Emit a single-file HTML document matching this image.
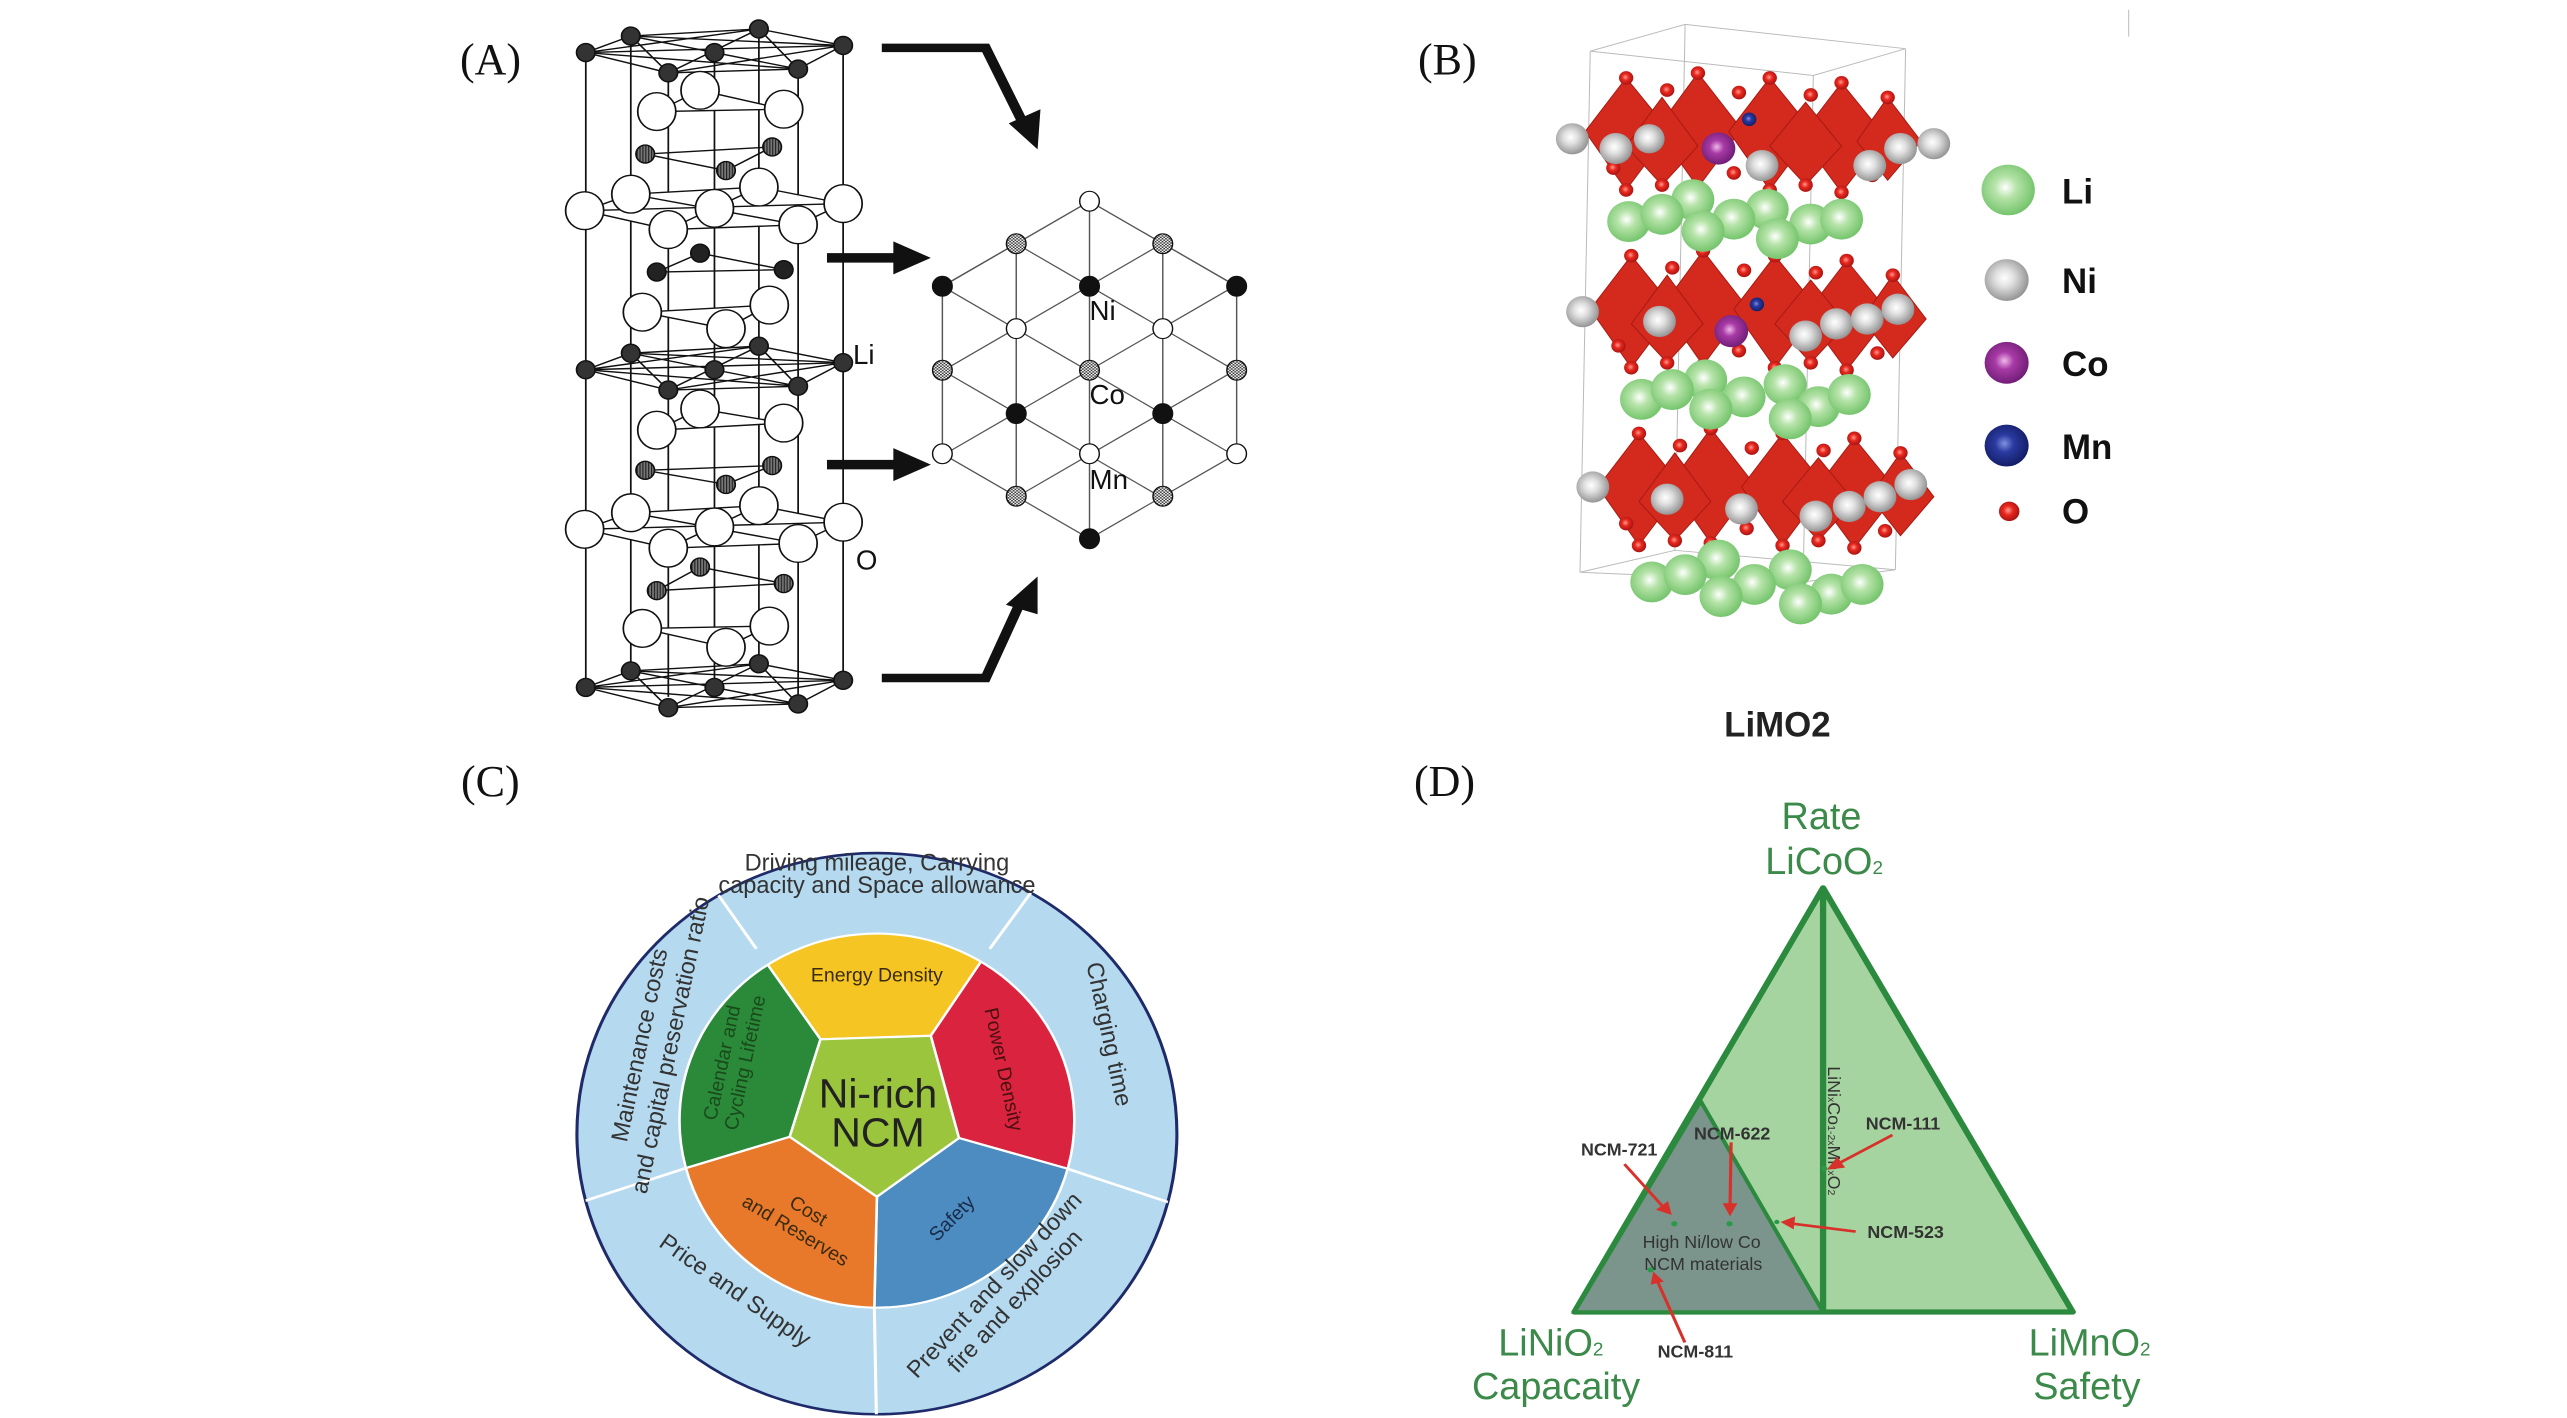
<!DOCTYPE html>
<html><head><meta charset="utf-8"><style>html,body{margin:0;padding:0;background:#fff;overflow:hidden}svg{display:block}</style></head>
<body>
<svg width="2567" height="1418" viewBox="0 0 2567 1418" xmlns="http://www.w3.org/2000/svg" font-family="Liberation Sans, sans-serif">
<defs>
<radialGradient id="gG" cx="0.45" cy="0.45" r="0.6"><stop offset="0" stop-color="#ffffff"/><stop offset="0.35" stop-color="#b5e3a8"/><stop offset="1" stop-color="#6cc064"/></radialGradient>
<radialGradient id="gN" cx="0.45" cy="0.45" r="0.6"><stop offset="0" stop-color="#ffffff"/><stop offset="0.35" stop-color="#e0e0e0"/><stop offset="1" stop-color="#8a8a8a"/></radialGradient>
<radialGradient id="gC" cx="0.45" cy="0.45" r="0.6"><stop offset="0" stop-color="#f0b8e8"/><stop offset="0.35" stop-color="#a83aa6"/><stop offset="1" stop-color="#6a1a70"/></radialGradient>
<radialGradient id="gM" cx="0.45" cy="0.45" r="0.6"><stop offset="0" stop-color="#8090e0"/><stop offset="0.35" stop-color="#2a3aa0"/><stop offset="1" stop-color="#101a60"/></radialGradient>
<radialGradient id="gO" cx="0.45" cy="0.45" r="0.6"><stop offset="0" stop-color="#ff9a90"/><stop offset="0.4" stop-color="#e8281e"/><stop offset="1" stop-color="#a01010"/></radialGradient>
<pattern id="chk" width="6" height="6" patternUnits="userSpaceOnUse"><rect width="6" height="6" fill="#fff"/><rect width="3" height="3" fill="#333"/><rect x="3" y="3" width="3" height="3" fill="#333"/></pattern>
<pattern id="hat" width="5" height="5" patternUnits="userSpaceOnUse"><rect width="5" height="5" fill="#777"/><rect width="2" height="5" fill="#222"/></pattern>
<clipPath id="hexc"><polygon points="1195,420 1450,600 1450,955 1195,1135 940,955 940,600"/></clipPath>
<clipPath id="inE"><ellipse cx="930" cy="875" rx="385" ry="430"/></clipPath>
<clipPath id="outE"><ellipse cx="930" cy="905" rx="585" ry="645"/></clipPath>
</defs>
<rect width="2567" height="1418" fill="#fff"/>

<g font-family="Liberation Serif, serif" font-size="44" fill="#111">
<text x="460" y="74">(A)</text>
<text x="1418" y="74">(B)</text>
<text x="461" y="796">(C)</text>
<text x="1414" y="796">(D)</text>
</g>

<!-- Panel A -->
<g transform="translate(400,3) scale(0.577,0.472)" stroke="#111" stroke-width="3" fill="none">
<g>
<line x1="322" y1="105" x2="322" y2="1440"/><line x1="400" y1="70" x2="400" y2="1400"/>
<line x1="465" y1="148" x2="465" y2="1470"/><line x1="545" y1="105" x2="545" y2="1455"/>
<line x1="622" y1="55" x2="622" y2="1400"/><line x1="690" y1="140" x2="690" y2="1470"/>
<line x1="768" y1="90" x2="768" y2="1440"/>
</g>
<g id="lay">
<polygon points="322,105 400,70 622,55 768,90 690,140 465,148"/>
<path d="M322,105 L768,90 M400,70 L690,140 M465,148 L622,55 M322,105 L622,55 M400,70 L768,90 M465,148 L768,90 M322,105 L690,140 M400,70 L465,148 M622,55 L690,140"/>
<g fill="#333"><ellipse cx="322" cy="105" rx="16" ry="19"/><ellipse cx="400" cy="70" rx="16" ry="19"/><ellipse cx="465" cy="148" rx="16" ry="19"/><ellipse cx="545" cy="105" rx="16" ry="19"/><ellipse cx="622" cy="55" rx="16" ry="19"/><ellipse cx="690" cy="140" rx="16" ry="19"/><ellipse cx="768" cy="90" rx="16" ry="19"/></g>
</g>
<use href="#lay" transform="translate(0,672)"/>
<use href="#lay" transform="translate(0,1345)"/>
<g>
<path d="M425,320 L645,305 L565,355 Z M520,530 L445,570 L665,565 Z M425,990 L645,980 L565,1020 Z M520,1195 L445,1245 L665,1230 Z"/>
<g fill="url(#hat)"><ellipse cx="425" cy="320" rx="16" ry="19"/><ellipse cx="645" cy="305" rx="16" ry="19"/><ellipse cx="565" cy="355" rx="16" ry="19"/>
<ellipse cx="425" cy="990" rx="16" ry="19"/><ellipse cx="645" cy="980" rx="16" ry="19"/><ellipse cx="565" cy="1020" rx="16" ry="19"/>
<ellipse cx="520" cy="1195" rx="16" ry="19"/><ellipse cx="445" cy="1245" rx="16" ry="19"/><ellipse cx="665" cy="1230" rx="16" ry="19"/></g>
<g fill="#222"><ellipse cx="520" cy="530" rx="16" ry="19"/><ellipse cx="445" cy="570" rx="16" ry="19"/><ellipse cx="665" cy="565" rx="16" ry="19"/></g>
</g>
<g fill="#fff">
<path d="M520,185 L445,230 L665,225 Z M420,655 L640,640 L565,690 Z M520,860 L445,905 L665,890 Z M420,1325 L640,1320 L565,1365 Z"/>
<ellipse cx="520" cy="185" rx="33" ry="40"/><ellipse cx="445" cy="230" rx="33" ry="40"/><ellipse cx="665" cy="225" rx="33" ry="40"/>
<ellipse cx="420" cy="655" rx="33" ry="40"/><ellipse cx="640" cy="640" rx="33" ry="40"/><ellipse cx="565" cy="690" rx="33" ry="40"/>
<ellipse cx="520" cy="860" rx="33" ry="40"/><ellipse cx="445" cy="905" rx="33" ry="40"/><ellipse cx="665" cy="890" rx="33" ry="40"/>
<ellipse cx="420" cy="1325" rx="33" ry="40"/><ellipse cx="640" cy="1320" rx="33" ry="40"/><ellipse cx="565" cy="1365" rx="33" ry="40"/>
</g>
<g id="olay" fill="#fff">
<path d="M320,440 L400,405 L622,390 L768,425 L690,470 L465,480 Z M320,440 L768,425 M400,405 L690,470 M465,480 L622,390"/>
<ellipse cx="320" cy="440" rx="33" ry="40"/><ellipse cx="400" cy="405" rx="33" ry="40"/><ellipse cx="622" cy="390" rx="33" ry="40"/><ellipse cx="545" cy="435" rx="33" ry="40"/><ellipse cx="768" cy="425" rx="33" ry="40"/><ellipse cx="465" cy="480" rx="33" ry="40"/><ellipse cx="690" cy="470" rx="33" ry="40"/>
</g>
<use href="#olay" transform="translate(0,675)"/>
<g fill="#111" stroke="none">
<polyline points="835,95 1015,95 1080,255" fill="none" stroke="#111" stroke-width="18"/>
<polygon points="1055,255 1110,225 1105,310"/>
<line x1="740" y1="540" x2="860" y2="540" stroke="#111" stroke-width="20"/>
<polygon points="855,505 920,540 855,575"/>
<line x1="740" y1="978" x2="860" y2="978" stroke="#111" stroke-width="20"/>
<polygon points="855,943 920,978 855,1013"/>
<polyline points="835,1430 1015,1430 1075,1270" fill="none" stroke="#111" stroke-width="18"/>
<polygon points="1050,1275 1105,1215 1105,1295"/>
</g>
<g clip-path="url(#hexc)" stroke="#555" stroke-width="2.5">
<line x1="1068" y1="300" x2="1068" y2="1300"/><line x1="1195" y1="300" x2="1195" y2="1300"/><line x1="1322" y1="300" x2="1322" y2="1300"/>
<line x1="900" y1="211" x2="1500" y2="636"/><line x1="900" y1="391" x2="1500" y2="816"/><line x1="900" y1="572" x2="1500" y2="997"/><line x1="900" y1="750" x2="1500" y2="1175"/><line x1="900" y1="927" x2="1500" y2="1352"/>
<line x1="900" y1="629" x2="1500" y2="204"/><line x1="900" y1="808" x2="1500" y2="383"/><line x1="900" y1="987" x2="1500" y2="562"/><line x1="900" y1="1166" x2="1500" y2="741"/><line x1="900" y1="1345" x2="1500" y2="920"/>
</g>
<polygon points="1195,420 1450,600 1450,955 1195,1135 940,955 940,600" stroke="#555" stroke-width="2.5"/>
<g stroke-width="2.5">
<ellipse cx="1195" cy="420" rx="17" ry="21" fill="#fff"/>
<ellipse cx="1068" cy="510" rx="17" ry="21" fill="url(#chk)"/><ellipse cx="1322" cy="510" rx="17" ry="21" fill="url(#chk)"/>
<ellipse cx="940" cy="600" rx="17" ry="21" fill="#111"/><ellipse cx="1195" cy="600" rx="17" ry="21" fill="#111"/><ellipse cx="1450" cy="600" rx="17" ry="21" fill="#111"/>
<ellipse cx="1068" cy="690" rx="17" ry="21" fill="#fff"/><ellipse cx="1322" cy="690" rx="17" ry="21" fill="#fff"/>
<ellipse cx="940" cy="778" rx="17" ry="21" fill="url(#chk)"/><ellipse cx="1195" cy="778" rx="17" ry="21" fill="url(#chk)"/><ellipse cx="1450" cy="778" rx="17" ry="21" fill="url(#chk)"/>
<ellipse cx="1068" cy="870" rx="17" ry="21" fill="#111"/><ellipse cx="1322" cy="870" rx="17" ry="21" fill="#111"/>
<ellipse cx="940" cy="955" rx="17" ry="21" fill="#fff"/><ellipse cx="1195" cy="955" rx="17" ry="21" fill="#fff"/><ellipse cx="1450" cy="955" rx="17" ry="21" fill="#fff"/>
<ellipse cx="1068" cy="1045" rx="17" ry="21" fill="url(#chk)"/><ellipse cx="1322" cy="1045" rx="17" ry="21" fill="url(#chk)"/>
<ellipse cx="1195" cy="1135" rx="17" ry="21" fill="#111"/>
</g>
<g fill="#111" stroke="none" font-size="48">
<text transform="translate(1195,672) scale(1,1.222)">Ni</text>
<text transform="translate(1195,850) scale(1,1.222)">Co</text>
<text transform="translate(1195,1030) scale(1,1.222)">Mn</text>
<text transform="translate(785,765) scale(1,1.222)">Li</text>
<text transform="translate(790,1200) scale(1,1.222)">O</text>
</g>
</g>

<!-- Panel B -->
<g transform="translate(1380,0) scale(0.5128,0.487)">
<g stroke="#bbb" stroke-width="2" fill="none">
<polygon points="410,105 595,50 1025,100 845,155"/>
<line x1="410" y1="105" x2="390" y2="1175"/><line x1="595" y1="50" x2="575" y2="1130"/>
<line x1="1025" y1="100" x2="1005" y2="1170"/><line x1="845" y1="155" x2="825" y2="1195"/>
<polygon points="390,1175 575,1130 1005,1170 825,1195"/>
<line x1="1460" y1="20" x2="1460" y2="75"/>
</g>
<g id="redL">
<g fill="#d42a1e" stroke="#a81a12" stroke-width="2">
<polygon points="480,160 565,270 480,390 400,270"/><polygon points="620,150 705,265 620,385 540,265"/>
<polygon points="760,160 845,270 760,390 680,270"/><polygon points="900,170 985,280 900,395 820,280"/>
<polygon points="990,200 1055,290 990,370 930,290"/><polygon points="550,200 620,300 550,380 480,300"/>
<polygon points="830,210 900,300 830,380 760,300"/>
</g>
<g fill="url(#gO)">
<circle cx="480" cy="160" r="14"/><circle cx="620" cy="150" r="14"/><circle cx="760" cy="160" r="14"/><circle cx="900" cy="170" r="14"/><circle cx="990" cy="200" r="14"/>
<circle cx="700" cy="190" r="14"/><circle cx="560" cy="185" r="14"/><circle cx="840" cy="195" r="14"/>
<circle cx="480" cy="390" r="14"/><circle cx="620" cy="385" r="14"/><circle cx="760" cy="390" r="14"/><circle cx="900" cy="395" r="14"/>
<circle cx="455" cy="345" r="14"/><circle cx="690" cy="355" r="14"/><circle cx="960" cy="360" r="14"/><circle cx="550" cy="380" r="14"/><circle cx="830" cy="380" r="14"/>
</g>
</g>
<use href="#redL" transform="translate(10,365)"/>
<use href="#redL" transform="translate(25,730)"/>
<g fill="url(#gN)">
<circle cx="375" cy="285" r="32"/><circle cx="460" cy="305" r="32"/><circle cx="525" cy="285" r="30"/><circle cx="745" cy="340" r="32"/><circle cx="955" cy="340" r="32"/><circle cx="1015" cy="305" r="32"/><circle cx="1080" cy="295" r="32"/>
<circle cx="395" cy="640" r="32"/><circle cx="545" cy="660" r="32"/><circle cx="830" cy="690" r="32"/><circle cx="890" cy="665" r="32"/><circle cx="950" cy="655" r="32"/><circle cx="1010" cy="635" r="32"/>
<circle cx="415" cy="1000" r="32"/><circle cx="560" cy="1025" r="32"/><circle cx="705" cy="1045" r="32"/><circle cx="850" cy="1060" r="32"/><circle cx="915" cy="1040" r="32"/><circle cx="975" cy="1020" r="32"/><circle cx="1035" cy="995" r="32"/>
</g>
<circle cx="660" cy="305" r="33" fill="url(#gC)"/><circle cx="685" cy="680" r="33" fill="url(#gC)"/>
<circle cx="720" cy="245" r="14" fill="url(#gM)"/><circle cx="735" cy="625" r="14" fill="url(#gM)"/>
<g fill="url(#gG)">
<circle cx="610" cy="410" r="42"/><circle cx="755" cy="430" r="42"/><circle cx="485" cy="455" r="42"/><circle cx="550" cy="440" r="42"/><circle cx="690" cy="450" r="42"/><circle cx="840" cy="460" r="42"/><circle cx="900" cy="450" r="42"/><circle cx="630" cy="475" r="42"/><circle cx="775" cy="490" r="42"/>
<circle cx="635" cy="780" r="42"/><circle cx="790" cy="790" r="42"/><circle cx="510" cy="820" r="42"/><circle cx="570" cy="800" r="42"/><circle cx="710" cy="815" r="42"/><circle cx="855" cy="835" r="42"/><circle cx="915" cy="810" r="42"/><circle cx="645" cy="840" r="42"/><circle cx="800" cy="860" r="42"/>
<circle cx="660" cy="1150" r="42"/><circle cx="800" cy="1170" r="42"/><circle cx="530" cy="1195" r="42"/><circle cx="595" cy="1180" r="42"/><circle cx="730" cy="1200" r="42"/><circle cx="880" cy="1220" r="42"/><circle cx="940" cy="1200" r="42"/><circle cx="665" cy="1225" r="42"/><circle cx="820" cy="1240" r="42"/>
</g>
<circle cx="1225" cy="390" r="52" fill="url(#gG)"/>
<circle cx="1222" cy="575" r="43" fill="url(#gN)"/>
<circle cx="1222" cy="745" r="43" fill="url(#gC)"/>
<circle cx="1222" cy="915" r="43" fill="url(#gM)"/>
<circle cx="1227" cy="1050" r="20" fill="url(#gO)"/>
<g font-weight="bold" font-size="68" fill="#111">
<text transform="translate(1330,418) scale(1,1.053)">Li</text>
<text transform="translate(1330,602) scale(1,1.053)">Ni</text>
<text transform="translate(1330,772) scale(1,1.053)">Co</text>
<text transform="translate(1330,942) scale(1,1.053)">Mn</text>
<text transform="translate(1330,1075) scale(1,1.053)">O</text>
<text transform="translate(775,1512) scale(1,1.053)" text-anchor="middle" fill="#222">LiMO2</text>
</g>
</g>

<!-- Panel C -->
<g transform="translate(400,740) scale(0.5128,0.435)">
<ellipse cx="930" cy="905" rx="585" ry="645" fill="#b5d9ef" stroke="#1e2a6a" stroke-width="6"/>
<g clip-path="url(#outE)" stroke="#fff" stroke-width="6">
<line x1="695" y1="480" x2="560" y2="255"/><line x1="1150" y1="480" x2="1290" y2="255"/>
<line x1="1300" y1="985" x2="1530" y2="1075"/><line x1="925" y1="1305" x2="930" y2="1620"/>
<line x1="555" y1="985" x2="320" y2="1075"/>
</g>
<g clip-path="url(#inE)" stroke="#fff" stroke-width="5">
<polygon fill="#f5c623" points="820,688 570,272 930,100 1265,280 1035,680"/>
<polygon fill="#d9233f" points="1035,680 1265,280 1700,500 1510,1055 1090,915"/>
<polygon fill="#4c8cc0" points="1090,915 1510,1055 1300,1700 920,1560 930,1050"/>
<polygon fill="#e8792a" points="930,1050 920,1560 500,1600 350,1058 760,912"/>
<polygon fill="#2a8a3a" points="760,912 350,1058 200,500 570,272 820,688"/>
<polygon fill="#9bc53d" points="820,688 1035,680 1090,915 930,1050 760,912"/>
</g>
<ellipse cx="930" cy="875" rx="385" ry="430" fill="none" stroke="#fff" stroke-width="5"/>
<g fill="#333" font-size="46" text-anchor="middle">
<text transform="translate(930,300) scale(1,1.179)">Driving mileage, Carrying</text>
<text transform="translate(930,352) scale(1,1.179)">capacity and Space allowance</text>
<text transform="translate(482,705) scale(1,1.179) rotate(-78)">Maintenance costs</text>
<text transform="translate(542,705) scale(1,1.179) rotate(-78)">and capital preservation ratio</text>
<text transform="translate(1368,680) scale(1,1.179) rotate(78)">Charging time</text>
<text transform="translate(645,1280) scale(1,1.179) rotate(35)">Price and Supply</text>
<text transform="translate(1170,1265) scale(1,1.179) rotate(-47)">Prevent and slow down</text>
<text transform="translate(1210,1302) scale(1,1.179) rotate(-47)">fire and explosion</text>
</g>
<g fill="#3a2a10" font-size="38" text-anchor="middle">
<text transform="translate(930,555) scale(1,1.179)">Energy Density</text>
<text transform="translate(1165,760) scale(1,1.179) rotate(78)" fill="#4a1010">Power Density</text>
<text transform="translate(640,745) scale(1,1.179) rotate(-78)" fill="#1a4a1a">Calendar and</text>
<text transform="translate(685,745) scale(1,1.179) rotate(-78)" fill="#1a4a1a">Cycling Lifetime</text>
<text transform="translate(790,1095) scale(1,1.179) rotate(31)">Cost</text>
<text transform="translate(765,1140) scale(1,1.179) rotate(31)">and Reserves</text>
<text transform="translate(1085,1110) scale(1,1.179) rotate(-45)" fill="#1a2a4a">Safety</text>
</g>
<g fill="#222" font-size="80" text-anchor="middle">
<text transform="translate(932,845) scale(1,1.179)">Ni-rich</text>
<text transform="translate(932,935) scale(1,1.179)">NCM</text>
</g>
</g>

<!-- Panel D -->
<g transform="translate(1380,740) scale(0.5256,0.435)">
<polygon points="843,340 1318,1315 370,1315" fill="#a6d4a0" stroke="#2b8a3e" stroke-width="12" stroke-linejoin="round"/>
<polygon points="610,830 843,1315 370,1315" fill="#7b958c" stroke="#2b8a3e" stroke-width="8"/>
<line x1="843" y1="340" x2="843" y2="1315" stroke="#2b8a3e" stroke-width="12"/>
<g fill="#3b8a4a" font-size="72" text-anchor="middle">
<text transform="translate(840,205) scale(1,1.208)">Rate</text>
<text transform="translate(845,308) scale(1,1.208)">LiCoO<tspan font-size="36">2</tspan></text>
<text transform="translate(325,1415) scale(1,1.208)">LiNiO<tspan font-size="36">2</tspan></text>
<text transform="translate(335,1515) scale(1,1.208)">Capacaity</text>
<text transform="translate(1350,1415) scale(1,1.208)">LiMnO<tspan font-size="36">2</tspan></text>
<text transform="translate(1345,1515) scale(1,1.208)">Safety</text>
</g>
<text transform="translate(852,750) scale(1,1.208) rotate(90)" font-size="34" fill="#333">LiNi<tspan font-size="20">x</tspan>Co<tspan font-size="20">1-2x</tspan>Mn<tspan font-size="20">x</tspan>O<tspan font-size="20">2</tspan></text>
<g fill="#333" font-size="34" font-weight="bold" text-anchor="middle">
<text transform="translate(995,895) scale(1,1.208)">NCM-111</text>
<text transform="translate(670,918) scale(1,1.208)">NCM-622</text>
<text transform="translate(455,955) scale(1,1.208)">NCM-721</text>
<text transform="translate(1000,1145) scale(1,1.208)">NCM-523</text>
<text transform="translate(600,1420) scale(1,1.208)">NCM-811</text>
<text transform="translate(612,1168) scale(1,1.208)" font-weight="normal">High Ni/low Co</text>
<text transform="translate(615,1218) scale(1,1.208)" font-weight="normal">NCM materials</text>
</g>
<g stroke="#d8302a" stroke-width="6" fill="#d8302a">
<line x1="975" y1="908" x2="870" y2="975"/><polygon points="850,988 870,958 885,983" stroke="none"/>
<line x1="668" y1="925" x2="666" y2="1070"/><polygon points="666,1095 652,1065 680,1065" stroke="none"/>
<line x1="465" y1="975" x2="540" y2="1075"/><polygon points="555,1092 525,1080 548,1060" stroke="none"/>
<line x1="905" y1="1130" x2="785" y2="1112"/><polygon points="762,1108 790,1095 787,1125" stroke="none"/>
<line x1="580" y1="1385" x2="528" y2="1245"/><polygon points="520,1222 540,1245 515,1252" stroke="none"/>
</g>
<g fill="#2a9a4a"><circle cx="560" cy="1112" r="6"/><circle cx="665" cy="1112" r="6"/><circle cx="515" cy="1218" r="6"/><circle cx="845" cy="985" r="6"/><circle cx="755" cy="1108" r="5"/></g>
</g>
</svg>
</body></html>
